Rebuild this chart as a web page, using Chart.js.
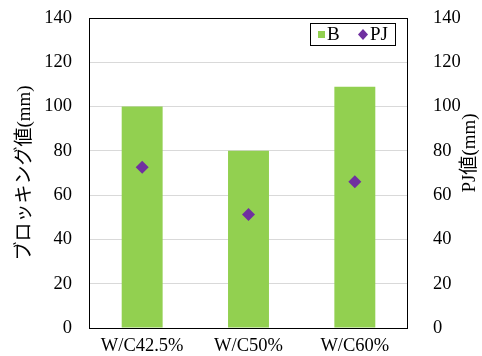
<!DOCTYPE html>
<html>
<head>
<meta charset="utf-8">
<script src="https://cdn.jsdelivr.net/npm/chart.js@4"></script>
<style>
  html, body { margin: 0; padding: 0; background: #fff; }
  #wrap { width: 482px; height: 356px; }
</style>
</head>
<body>
<div id="wrap"><canvas id="c" width="482" height="356"></canvas></div>
<script>
const categories = ['W/C42.5%', 'W/C50%', 'W/C60%'];
const blockingValues = [100, 80, 109];
const pjValues = [72.6, 51.3, 66.1];
const yTicks = [0, 20, 40, 60, 80, 100, 120, 140];

const SERIF = '"Liberation Serif", "Times New Roman", "Noto Sans CJK JP", serif';
const JP = '"Liberation Serif", "Noto Sans CJK JP", serif';
const BAR_COLOR = '#92D050';
const PJ_COLOR = '#7030A0';

const frameAndText = {
  id: 'frameAndText',
  afterDraw(chart) {
    const ctx = chart.ctx;
    const a = chart.chartArea;
    ctx.save();
    // plot frame
    ctx.strokeStyle = '#000';
    ctx.lineWidth = 1;
    ctx.strokeRect(Math.round(a.left) + 0.5, Math.round(a.top) + 0.5,
                   Math.round(a.right - a.left) - 1, Math.round(a.bottom - a.top));

    // axis titles (both read bottom to top)
    ctx.fillStyle = '#000';
    ctx.textAlign = 'center';
    ctx.textBaseline = 'middle';
    ctx.font = '19px ' + JP;
    ctx.translate(25, 173);
    ctx.rotate(-Math.PI / 2);
    ctx.fillText('ブロッキング値(mm)', 0, 0);
    ctx.setTransform(1, 0, 0, 1, 0, 0);
    ctx.translate(470, 153);
    ctx.rotate(-Math.PI / 2);
    ctx.fillText('PJ値(mm)', 0, 0);
    ctx.setTransform(1, 0, 0, 1, 0, 0);

    // legend box
    ctx.fillStyle = '#fff';
    ctx.fillRect(310, 23, 85, 22);
    ctx.strokeStyle = '#000';
    ctx.strokeRect(310.5, 23.5, 85, 22);
    ctx.fillStyle = BAR_COLOR;
    ctx.fillRect(318, 31, 7, 7);
    ctx.fillStyle = PJ_COLOR;
    ctx.beginPath();
    ctx.moveTo(363, 29); ctx.lineTo(368, 34.5); ctx.lineTo(363, 40); ctx.lineTo(358, 34.5);
    ctx.closePath(); ctx.fill();
    ctx.fillStyle = '#000';
    ctx.textAlign = 'left';
    ctx.textBaseline = 'middle';
    ctx.font = '19px ' + SERIF;
    ctx.fillText('B', 327, 35);
    ctx.fillText('PJ', 370, 35);
    ctx.restore();
  }
};

function fixY(width) {
  return function (s) {
    s.width = width;
    s.paddingTop = 0;
    s.paddingBottom = 0;
  };
}

new Chart(document.getElementById('c'), {
  data: {
    labels: categories,
    datasets: [
      {
        type: 'line',
        label: 'PJ',
        data: pjValues,
        yAxisID: 'y2',
        showLine: false,
        pointStyle: 'rectRot',
        pointRadius: 6.5,
        pointHoverRadius: 6.5,
        pointBackgroundColor: PJ_COLOR,
        pointBorderColor: PJ_COLOR,
        pointBorderWidth: 0,
        order: 0
      },
      {
        type: 'bar',
        label: 'B',
        data: blockingValues,
        yAxisID: 'y',
        backgroundColor: BAR_COLOR,
        borderWidth: 0,
        categoryPercentage: 1.0,
        barPercentage: 0.385,
        order: 1
      }
    ]
  },
  options: {
    responsive: false,
    animation: false,
    events: [],
    layout: { padding: { top: 18, left: 0, right: 0, bottom: 0 } },
    plugins: { legend: { display: false }, tooltip: { enabled: false } },
    scales: {
      x: {
        grid: { display: false, drawTicks: false },
        border: { display: false },
        ticks: { color: '#000', padding: 7, font: { family: SERIF, size: 18.5 }, maxRotation: 0 },
        afterFit(s) { s.height = 28; s.paddingLeft = 0; s.paddingRight = 0; }
      },
      y: {
        position: 'left',
        min: 0, max: 140,
        afterBuildTicks(s) { s.ticks = yTicks.map(v => ({ value: v })); },
        grid: { color: '#d9d9d9', drawTicks: false },
        border: { display: false },
        ticks: { color: '#000', padding: 17, font: { family: SERIF, size: 18.5 } },
        afterFit: fixY(89)
      },
      y2: {
        position: 'right',
        min: 0, max: 140,
        afterBuildTicks(s) { s.ticks = yTicks.map(v => ({ value: v })); },
        grid: { display: false, drawTicks: false },
        border: { display: false },
        ticks: { color: '#000', padding: 25, font: { family: SERIF, size: 18.5 } },
        afterFit: fixY(74)
      }
    }
  },
  plugins: [frameAndText]
});
</script>
</body>
</html>
